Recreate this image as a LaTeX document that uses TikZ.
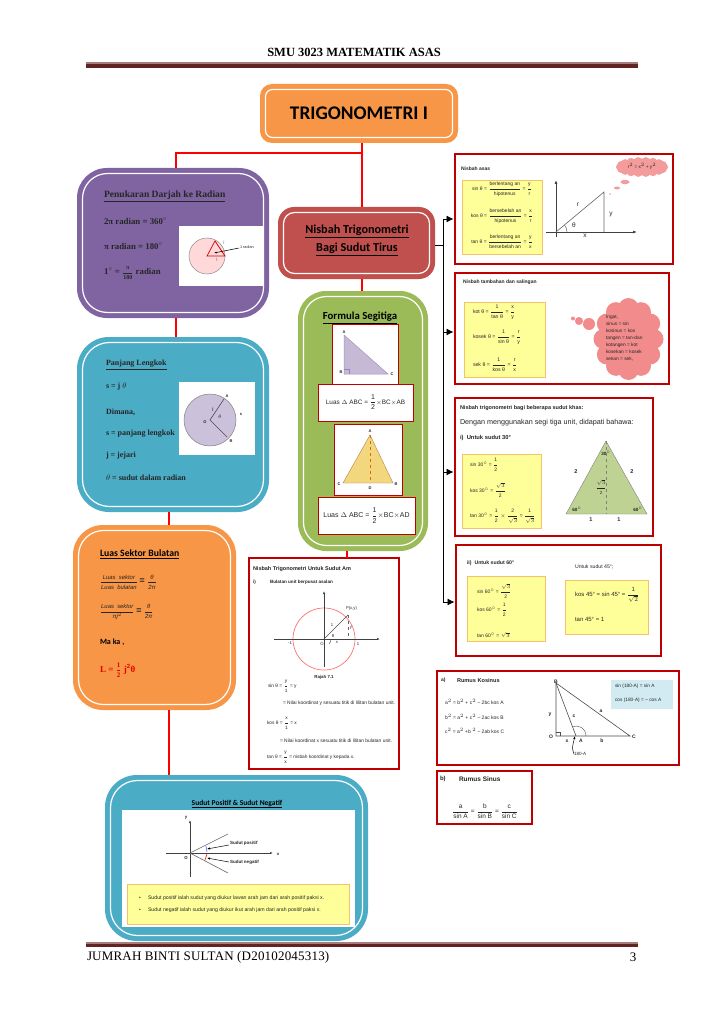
\documentclass[tikz,border=0pt]{standalone}
\usepackage{amsmath}
\usepackage{fontspec}
\setmainfont{Liberation Sans}
\newfontfamily\carl{Carlito}
\newfontfamily\tms{Liberation Serif}
\newfontfamily\hdr{Liberation Serif}
\newfontfamily\ftrf[LetterSpace=1.5]{Liberation Serif}
\usetikzlibrary{arrows.meta,calc}
\definecolor{cOrange}{HTML}{F79646}
\definecolor{cPurple}{HTML}{8064A2}
\definecolor{cRed}{HTML}{C0504D}
\definecolor{cGreen}{HTML}{9BBB59}
\definecolor{cBlue}{HTML}{4BACC6}
\definecolor{cBox}{HTML}{C00000}
\definecolor{cLine}{HTML}{FF0000}
\definecolor{cYel}{HTML}{FFFF99}
\definecolor{cYelB}{HTML}{F5C16C}
\definecolor{cPink}{HTML}{F28B8B}
\definecolor{cRuleA}{HTML}{622423}
\definecolor{cRuleB}{HTML}{A67C7C}
\definecolor{cTri}{HTML}{F2D77E}
\newcommand{\sz}[1]{\fontsize{#1}{#1}\selectfont}
\newcommand{\fr}[2]{$\dfrac{\text{#1}}{\text{#2}}$}
\newcommand{\sq}{$\sqrt{3}$}
\newcommand{\panel}[7]{%
  \pgfmathsetmacro\pw{#4-#2}\pgfmathsetmacro\ph{#5-#3}%
  \pgfmathsetmacro\cx{(#4+#2)/2}\pgfmathsetmacro\cy{(#5+#3)/2}%
  \pgfmathsetmacro\qw{\pw-11}\pgfmathsetmacro\qh{\ph-11}\pgfmathsetmacro\qr{#7-5}%
  \node[pbase,fill=#6,rounded corners=#7pt,minimum width=\pw pt,minimum height=\ph pt] (#1) at (\cx,\cy) {};
  \node[pbase,draw=white,line width=1.2pt,rounded corners=\qr pt,minimum width=\qw pt,minimum height=\qh pt] (#1i) at (\cx,\cy) {};
}
\newcommand{\bx}[6]{%
  \pgfmathsetmacro\pw{#4-#2}\pgfmathsetmacro\ph{#5-#3}%
  \pgfmathsetmacro\cx{(#4+#2)/2}\pgfmathsetmacro\cy{(#5+#3)/2}%
  \node[pbase,#6,minimum width=\pw pt,minimum height=\ph pt] (#1) at (\cx,\cy) {};
}
\tikzset{
  pbase/.style={inner sep=0pt,outer sep=0pt},
  redbox/.style={draw=cBox,line width=1.7pt,fill=white},
  thinbox/.style={draw=cBox,line width=1pt,fill=white},
  yelbox/.style={draw=cYelB,line width=0.8pt,fill=cYel},
  whitebox/.style={fill=white},
  redline/.style={draw=cLine,line width=2.6pt},
  conn/.style={draw=black,line width=0.8pt},
  arr/.style={conn,-{Latex[length=7pt,width=7pt]},shorten >=1.5pt},
  tw/.style={anchor=west,inner sep=0pt,outer sep=0pt,text=black!85},
  tc/.style={anchor=center,inner sep=0pt,outer sep=0pt,text=black!85},
  s/.style={font=\sz{5.2}},
  sb/.style={font=\sz{5}\bfseries},
  ser/.style={font=\tms\bfseries\sz{8}},
  serb/.style={font=\tms\bfseries\sz{8.8}},
  head/.style={font=\carl\bfseries\sz{11.5},text=black},
  dia/.style={draw=black!60,line width=0.6pt},
  axis/.style={draw=black!75,line width=0.8pt},
}
\begin{document}
\begin{tikzpicture}[x=1pt,y=-1pt]
\useasboundingbox[fill=white] (0,0) rectangle (724,1024);
% page header and footer
\node[tc,font=\hdr\bfseries\sz{12.5},text=black] (hdr) at (354,52) {SMU 3023 MATEMATIK ASAS};
\bx{ruleTa}{86}{62}{638}{64}{fill=cRuleB}
\bx{ruleTb}{86}{64}{638}{68}{fill=cRuleA}
\bx{ruleBa}{86}{942}{638}{944}{fill=cRuleB}
\bx{ruleBb}{86}{944}{638}{947}{fill=cRuleA}
\node[tw,font=\ftrf\sz{13},text=black] (ftr) at (87,957) {JUMRAH BINTI SULTAN (D20102045313)};
\node[tc,font=\hdr\sz{13},text=black] (pg) at (633,957) {3};
% panels
\panel{title}{260}{84}{458}{143}{cOrange}{12}
\panel{purple}{77}{168}{269}{318}{cPurple}{30}
\panel{nis}{278}{207}{435}{279}{cRed}{16}
\panel{green}{298}{291}{428}{551}{cGreen}{28}
\panel{blueA}{77}{337}{269}{512}{cBlue}{32}
\panel{orangeB}{73}{525}{236}{710}{cOrange}{30}
\panel{blueB}{105}{775}{368}{941}{cBlue}{32}
% red connectors
\draw[redline] ([xshift=3pt]title.south) -- ([xshift=5.5pt]nis.north);
\coordinate (jn) at (362,153);
\coordinate (pup) at ([xshift=3pt]purple.north);
\draw[redline] (jn) -- (jn -| pup) -- (pup);
\draw[redline] ([xshift=3pt]purple.south) -- ([xshift=3pt]blueA.north);
\draw[redline] ([xshift=-4pt]blueA.south) -- ([xshift=14.5pt]orangeB.north);
\draw[redline] ([xshift=14.5pt]orangeB.south) -- ([xshift=-67.5pt]blueB.north);
\draw[redline] ([xshift=5.5pt]nis.south) -- ([xshift=-1pt]green.north);
% title texts
\node[tc,font=\carl\bfseries\sz{19.3},text=black] (ttl) at (359,113) {TRIGONOMETRI I};
\node[tc,font=\carl\bfseries\sz{12.2},text=black,align=center] (nt) at (357,240.5) {\underline{Nisbah Trigonometri}\\[4.5pt]\underline{Bagi Sudut Tirus}};
% purple content
\node[tw,font=\tms\bfseries\sz{9.6}] (p1) at (104,196) {\underline{Penukaran Darjah ke Radian}};
\node[tw,serb] (p2) at (104,221) {2π  radian = 360$^{\circ}$};
\node[tw,serb] (p3) at (104,246) {π  radian  = 180$^{\circ}$};
\node[tw,serb] (p4) at (104,273) {1$^{\circ}$ = \sz{6}\fr{π}{180}\sz{8.8} radian};
\bx{pimg}{179}{226}{263}{286}{whitebox}
\fill[red!15,draw=black!45,line width=0.5pt] (207,256) circle (18);
\draw[red!85!black,line width=0.7pt] (225,256) -- (207,256) -- (215,241) -- cycle;
\draw[black,line width=0.5pt,-{Latex[length=2.5pt]}] (239,248) -- (214,253);
\node[tw,font=\sz{3.8}] (rad) at (240,247) {1 radian};
\node[tc,font=\sz{3.5}] (pj1) at (224,243) {j};
\node[tc,font=\sz{3.5}] (pj2) at (217,260) {j};
% blue A content
\node[tw,ser] (b1) at (106,365) {\underline{Panjang Lengkok}};
\node[tw,ser] (b2) at (106,387) {s = j $\theta$};
\node[tw,ser] (b3) at (106,412) {Dimana,};
\node[tw,ser] (b4) at (106,434) {s = panjang  lengkok};
\node[tw,ser] (b5) at (106,456) {j = jejari};
\node[tw,ser] (b6) at (106,478) {$\theta$  = sudut dalam radian};
\bx{bimg}{179}{382}{255}{455}{whitebox}
\fill[cPurple!40,draw=black!50,line width=0.5pt] (210,420) circle (26);
\draw[black!70,line width=0.6pt] (224,399) -- (210,420) -- (227,437);
\node[tc,font=\bfseries\sz{4}] (cA) at (227,396) {A};
\node[tc,font=\bfseries\sz{4}] (cB) at (231,441) {B};
\node[tc,font=\bfseries\sz{4}] (cO) at (205,422) {O};
\node[tc,font=\bfseries\sz{4}] (cj) at (213,409) {j};
\node[tc,font=\bfseries\sz{4}] (cth) at (220,417) {$\theta$};
\node[tc,font=\bfseries\sz{4}] (cs) at (241,414) {s};
% orange content
\node[tw,head,font=\carl\bfseries\sz{9.7}] (o1) at (100,554) {\underline{Luas Sektor Bulatan}};
\node[tw,font=\itshape\sz{5.9}] (o2) at (100,582) {\fr{\itshape Luas\ \ sektor}{\itshape Luas\ \ bulatan} \sz{9}\textbf{=} \sz{5.9}\fr{\itshape θ}{\itshape 2π}};
\node[tw,font=\itshape\sz{5.9}] (o3) at (100,612) {\fr{\itshape Luas\ \ sektor}{\itshape πj$^{2}$} \sz{9}\textbf{=} \sz{5.9}\fr{\itshape θ}{\itshape 2π}};
\node[tw,font=\carl\bfseries\sz{8},text=black] (o4) at (100,642) {Ma ka ,};
\node[tw,font=\tms\bfseries\sz{9},text=red!90!black] (o5) at (100,670) {L = \sz{7}\fr{\bfseries 1}{\bfseries 2}\sz{9} j$^{\mathbf 2}$θ};
% bottom blue content
\node[tc,font=\carl\bfseries\sz{7.5},text=black] (u1) at (237,804) {\underline{Sudut Positif \& Sudut Negatif}};
\bx{uimg}{122}{810}{355}{927}{whitebox}
\draw[axis,-{Latex[length=3pt]}] (190,877) -- (190,820);
\draw[axis,-{Latex[length=3pt]}] (166,853) -- (273,853);
\draw[dia] (190,853) -- (228,834);
\draw[dia] (190,853) -- (228,873);
\draw[blue!60,line width=0.6pt] (206,846) -- (207,852);
\draw[red,line width=0.6pt] (207,854) -- (205,860);
\node[tw,font=\bfseries\sz{4.5}] (u2) at (230,843) {Sudut positif};
\node[tw,font=\bfseries\sz{4.5}] (u3) at (230,862) {Sudut negatif};
\draw[black,line width=0.5pt,-{Latex[length=3pt]}] ([xshift=-1pt,yshift=-2pt]u2.west) -- (207,849);
\draw[black,line width=0.5pt,-{Latex[length=3pt]}] ([xshift=-1pt]u3.west) -- (207,858);
\node[tc,font=\bfseries\sz{4.3}] (uy) at (186,818) {y};
\node[tc,font=\bfseries\sz{4.3}] (ux) at (278,854) {x};
\node[tc,font=\bfseries\sz{4.3}] (uo) at (186,858) {O};
\bx{uyel}{127}{884}{349}{924}{yelbox}
\node[tc,font=\sz{5}] (ub1) at (140,898) {•};
\node[tc,font=\sz{5}] (ub2) at (140,910) {•};
\node[tw,s] (ut1) at (148,898) {Sudut positif ialah sudut yang diukur lawan arah jam dari arah positif paksi x.};
\node[tw,s] (ut2) at (148,910) {Sudut negatif ialah sudut yang diukur ikut arah jam dari arah positif paksi x.};
% green content
\node[tc,font=\carl\bfseries\sz{10.8},text=black] (g0) at (360,318) {\underline{Formula Segitiga}};
\bx{g1}{332}{324}{398}{384}{thinbox}
\fill[cPurple!45,draw=cPurple!70,line width=0.5pt] (344,335) -- (344,374) -- (388,374) -- cycle;
\draw[cPurple!80,line width=0.4pt] (344,369) -- (349,369) -- (349,374);
\node[tc,font=\bfseries\sz{4}] (g1a) at (344,332) {A};
\node[tc,font=\bfseries\sz{4}] (g1b) at (341,372) {B};
\node[tc,font=\bfseries\sz{4}] (g1c) at (392,374) {C};
\bx{g2}{318}{384}{413}{421}{thinbox}
\node[tc,font=\sz{6.4}] (g2t) at (365.5,402) {Luas $\Delta$ ABC = \sz{7}\fr{1}{2}\sz{6.4}$\times$BC$\times$AB};
\bx{g3}{334}{424}{402}{495}{thinbox}
\fill[cTri,draw=orange!60!black!70,line width=0.4pt] (370,435) -- (343,483) -- (393,483) -- cycle;
\draw[orange!85!black,dashed,line width=0.5pt] (370,435) -- (370,483);
\node[tc,font=\bfseries\sz{4}] (g3a) at (370,431) {A};
\node[tc,font=\bfseries\sz{4}] (g3c) at (339,484) {C};
\node[tc,font=\bfseries\sz{4}] (g3b) at (396,484) {B};
\node[tc,font=\bfseries\sz{4}] (g3d) at (370,488) {D};
\bx{g4}{318}{497}{415}{534}{thinbox}
\node[tc,font=\sz{7}] (g4t) at (366.5,515.5) {Luas  $\Delta$ ABC = \fr{1}{2}$\times$BC$\times$AD};
% side connectors
\coordinate (sptop) at (443,219);
\coordinate (spmid) at (443,245);
\coordinate (spa) at (443,332);
\coordinate (spb) at (443,472);
\coordinate (spbot) at (443,602);
% am box
\bx{am}{249}{558}{399}{769}{redbox}
\draw[draw=cLine,line width=1.8pt] ([xshift=-16pt]green.south) -- ([xshift=23pt]am.north);
\node[tw,font=\bfseries\sz{5.5}] (am1) at (253,569) {Nisbah Trigonometri Untuk Sudut Am};
\node[tw,font=\bfseries\sz{4.6}] (am2) at (253,582) {i)};
\node[tw,font=\bfseries\sz{4.6}] (am3) at (270,582) {Bulatan unit berpusat asalan};
\draw[red!55!white,line width=0.7pt] (324,639) circle (31);
\draw[axis,-{Latex[length=3pt]}] (274,639) -- (380,639);
\draw[axis,line width=0.6pt,-{Latex[length=3pt]}] (324,667) -- (324,591);
\draw[dia,black!70] (324,639) -- (348,615);
\draw[dia,dashed,line width=0.4pt] (348,615) -- (348,639);
\draw[black!70,line width=0.4pt] (331,639) arc[start angle=0,end angle=45,radius=7];
\node[tw,font=\sz{4.2}] (amP) at (346,608.5) {P(x,y)};
\node[tc,font=\sz{4.2}] (am4) at (332,625) {1};
\node[tc,font=\sz{4.2}] (am5) at (351,628) {y};
\node[tc,font=\sz{4.2}] (am6) at (337,642) {x};
\node[tc,font=\sz{4.2}] (am7) at (333,636) {θ};
\node[tc,font=\sz{4.2}] (am8) at (290,643) {-1};
\node[tc,font=\sz{4.2}] (am9) at (322,644) {O};
\node[tc,font=\sz{4.2}] (am10) at (358,644) {1};
\node[tc,font=\bfseries\sz{4.4}] (am11) at (324,677) {Rajah 7.1};
\node[tw,font=\sz{4.8}] (am12) at (268,686) {sin θ = \fr{y}{1} = y};
\node[tw,font=\sz{4.9}] (am13) at (283,703) {= Nilai koordinat y sesuatu titik di lilitan bulatan unit.};
\node[tw,font=\sz{4.8}] (am14) at (267,723) {kos θ = \fr{x}{1} =  x};
\node[tw,font=\sz{4.9}] (am15) at (280,741) {= Nilai koordinat x sesuatu titik di lilitan bulatan unit.};
\node[tw,font=\sz{4.8}] (am16) at (267,757) {tan θ = \fr{y}{x} = nisbah koordinat y kepada x.};
% nisbah asas
\bx{asas}{455}{154}{673}{264}{redbox}
\node[tw,sb] (a0) at (461,169) {Nisbah asas};
\bx{ay}{462}{180}{542}{254}{yelbox}
\node[tc,font=\sz{5}] (a1) at (502,189) {sin θ = \fr{berlentang an}{hipotenus} = \fr{y}{r}};
\node[tc,font=\sz{5}] (a2) at (502,216) {kos θ = \fr{bersebelah an}{hipotenus} = \fr{x}{r}};
\node[tc,font=\sz{5}] (a3) at (502,242) {tan θ = \fr{berlentang an}{bersebelah an} = \fr{y}{x}};
\draw[axis,-{Latex[length=4pt]}] (546,232) -- (637,232);
\draw[axis,-{Latex[length=4pt]}] (556,237) -- (556,180);
\draw[dia] (556,232) -- (604,192) -- (604,232);
\draw[black!70,line width=0.4pt] (567,232) arc[start angle=0,end angle=-40,radius=11];
\node[tc,font=\sz{6.5}] (a4) at (578,205) {r};
\node[tc,font=\sz{6.5}] (a5) at (611,214) {y};
\node[tc,font=\sz{6.5}] (a6) at (585,236) {x};
\node[tc,font=\sz{6.5}] (a7) at (574,225) {θ};
\foreach \a in {0,20,...,340}{\fill[cPink!85] ($(642,167)+(\a:22 and 6)$) circle (4);}
\fill[cPink!85] (642,167) ellipse (23 and 8.5);
\fill[cPink!85] (625,182) ellipse (4.5 and 2.2);
\fill[cPink!85] (617,188) ellipse (3 and 1.5);
\fill[cPink!85] (610,194) circle (0.9);
\node[tc,font=\sz{4.6}] (a8) at (642,166) {r$^{2}$ = x$^{2}$ + y$^{2}$};
% tambahan
\bx{tamb}{455}{273}{669}{384}{redbox}
\node[tw,sb] (t0) at (463,282) {Nisbah tambahan dan salingan};
\bx{ty}{464}{302}{545}{377}{yelbox}
\node[tw,font=\sz{5.2}] (t1) at (473,312) {kot θ = \fr{1}{tan θ} = \fr{x}{y}};
\node[tw,font=\sz{5.2}] (t2) at (473,337) {kosek θ = \fr{1}{sin θ} = \fr{r}{y}};
\node[tw,font=\sz{5.2}] (t3) at (473,365) {sek θ = \fr{1}{kos θ} = \fr{r}{x}};
\foreach \a in {0,30,...,330}{\fill[cPink] ($(628.5,339)+(\a:25 and 31)$) circle (10);}
\fill[cPink] (628.5,339) ellipse (28 and 34);
\fill[cPink] (589,324) circle (6);
\fill[cPink] (579,321) circle (4);
\fill[cPink] (573,318.5) circle (2);
\node[tw,font=\sz{4.8},align=left] (t4) at (606,338) {Ingat,\\[2.2pt]sinus = sin\\[2.2pt]kosinus = kos\\[2.2pt]tangen = tan-dan\\[2.2pt]kotangen = kot\\[2.2pt]kosekan = kosek\\[2.2pt]sekan = sek,};
% khas
\bx{khas}{455}{398}{653}{536}{redbox}
\node[tw,font=\bfseries\sz{5.5}] (k0) at (460,408) {Nisbah trigonometri bagi beberapa sudut khas:};
\node[tw,font=\sz{7.2}] (k1) at (460,423) {Dengan menggunakan segi tiga unit, didapati bahawa:};
\node[tw,font=\bfseries\sz{5.8}] (k2) at (460,438) {i)\ \ Untuk sudut 30°};
\bx{ky}{462}{454}{541}{528}{yelbox}
\node[tw,font=\sz{5}] (k3) at (470,465) {sin 30$^{\circ}$ = \fr{1}{2}};
\node[tw,font=\sz{5}] (k4) at (470,490) {kos 30$^{\circ}$ = \fr{\sq}{2}};
\node[tw,font=\sz{5}] (k5) at (470,516) {tan 30$^{\circ}$ = \fr{1}{2} $\times$ \fr{2}{\sq} = \fr{1}{\sq}};
\fill[cGreen!65,draw=black!50,line width=0.4pt] (606,441) -- (566,514) -- (647,514) -- cycle;
\draw[black!50,dashed,line width=0.4pt] (606,441) -- (606,514);
\node[tc,font=\bfseries\sz{4.6}] (k6) at (606,453) {30$^{\circ}$};
\node[tc,font=\bfseries\sz{4.6}] (k7) at (577,509) {60$^{\circ}$};
\node[tc,font=\bfseries\sz{4.6}] (k8) at (638,509) {60$^{\circ}$};
\node[tc,font=\bfseries\sz{5.5}] (k9) at (576,472) {2};
\node[tc,font=\bfseries\sz{5.5}] (k10) at (632,472) {2};
\node[tc,font=\bfseries\sz{5.5}] (k11) at (591,520) {1};
\node[tc,font=\bfseries\sz{5.5}] (k12) at (619,520) {1};
\node[tc,font=\sz{4.4}] (k13) at (601,487) {\fr{\sq}{2}};
% untuk 60
\bx{u60}{456}{545}{661}{656}{redbox}
\node[tw,font=\bfseries\sz{5.2}] (s0) at (467,563) {ii)\ \ Untuk sudut 60°};
\bx{sy}{467}{576}{545}{641}{yelbox}
\node[tw,font=\sz{5}] (s1) at (477,591) {sin 60$^{\circ}$ = \fr{\sq}{2}};
\node[tw,font=\sz{5}] (s2) at (477,610) {kos 60$^{\circ}$ = \fr{1}{2}};
\node[tw,font=\sz{5}] (s3) at (477,635) {tan 60$^{\circ}$ = \sq};
\node[tw,font=\sz{5.2}] (s4) at (575,567) {Untuk sudut 45°;};
\bx{sz}{565}{580}{648}{634}{yelbox}
\node[tw,font=\sz{6}] (s5) at (575,595) {kos 45° = sin 45° = \fr{1}{$\sqrt{2}$}};
\node[tw,font=\sz{6}] (s6) at (575,619) {tan 45° = 1};
% side arrows
\draw[conn] ([yshift=-2pt]nis.east) -- (spmid);
\draw[conn] (sptop) -- (spbot);
\draw[arr] (sptop) -- ([yshift=-10pt]asas.west);
\draw[arr] (spa) -- ([yshift=-3.5pt]tamb.west);
\draw[arr] (spb) -- ([yshift=-5pt]khas.west);
\draw[arr] (spbot) -- ([yshift=-1.5pt]u60.west);
% kosinus
\bx{kos}{437}{671}{679}{765}{redbox}
\node[tw,sb] (c0) at (441,680) {a)};
\node[tw,font=\bfseries\sz{5.6}] (c1) at (457,680) {Rumus Kosinus};
\node[tw,font=\sz{5}] (c2) at (445,702) {a$^{2}$ = b$^{2}$ + c$^{2}$ -- 2bc kos A};
\node[tw,font=\sz{5}] (c3) at (445,717) {b$^{2}$ = a$^{2}$ + c$^{2}$ -- 2ac kos B};
\node[tw,font=\sz{5}] (c4) at (445,731) {c$^{2}$ = a$^{2}$ +b $^{2}$ -- 2ab kos C};
\draw[dia,black!70] (556,683) -- (556,736) -- (630,736) -- cycle;
\draw[dia,black!70] (556,683) -- (576,736);
\draw[black!70,line width=0.4pt] (556,732) -- (560,732) -- (560,736);
\draw[black!70,line width=0.4pt] (586,736) arc[start angle=0,end angle=-110,radius=10];
\node[tc,font=\bfseries\sz{5}] (c5) at (556,682) {B};
\node[tc,font=\bfseries\sz{5}] (c6) at (551,737) {O};
\node[tc,font=\bfseries\sz{5}] (c7) at (581,741) {A};
\node[tc,font=\bfseries\sz{5}] (c8) at (634,737) {C};
\node[tc,font=\bfseries\sz{5}] (c9) at (550,715) {y};
\node[tc,font=\bfseries\sz{5}] (c10) at (574,716) {c};
\node[tc,font=\bfseries\sz{5}] (c11) at (601,711) {a};
\node[tc,font=\bfseries\sz{5}] (c12) at (567,741) {x};
\node[tc,font=\bfseries\sz{5}] (c13) at (602,741) {b};
\node[tw,font=\sz{4.6}] (c14) at (574,754) {180-A};
\draw[black,line width=0.5pt,-{Latex[length=3pt]}] (c14.west) .. controls (572,748) .. (575,736);
\bx{cb}{611}{680}{673}{709}{fill=cBlue!25}
\node[tw,font=\sz{4.8}] (c15) at (615,686) {sin (180-A) = sin A};
\node[tw,font=\sz{4.8}] (c16) at (615,700) {cos (180-A) = -- cos A};
% sinus
\bx{sin}{437}{771}{532}{824}{redbox}
\node[tw,font=\bfseries\sz{6}] (d0) at (440,779) {b)};
\node[tw,font=\bfseries\sz{6.5}] (d1) at (459,779) {Rumus Sinus};
\node[tc,font=\sz{6.5}] (d2) at (485,811) {\fr{a}{sin A} = \fr{b}{sin B} = \fr{c}{sin C}};
\end{tikzpicture}
\end{document}
